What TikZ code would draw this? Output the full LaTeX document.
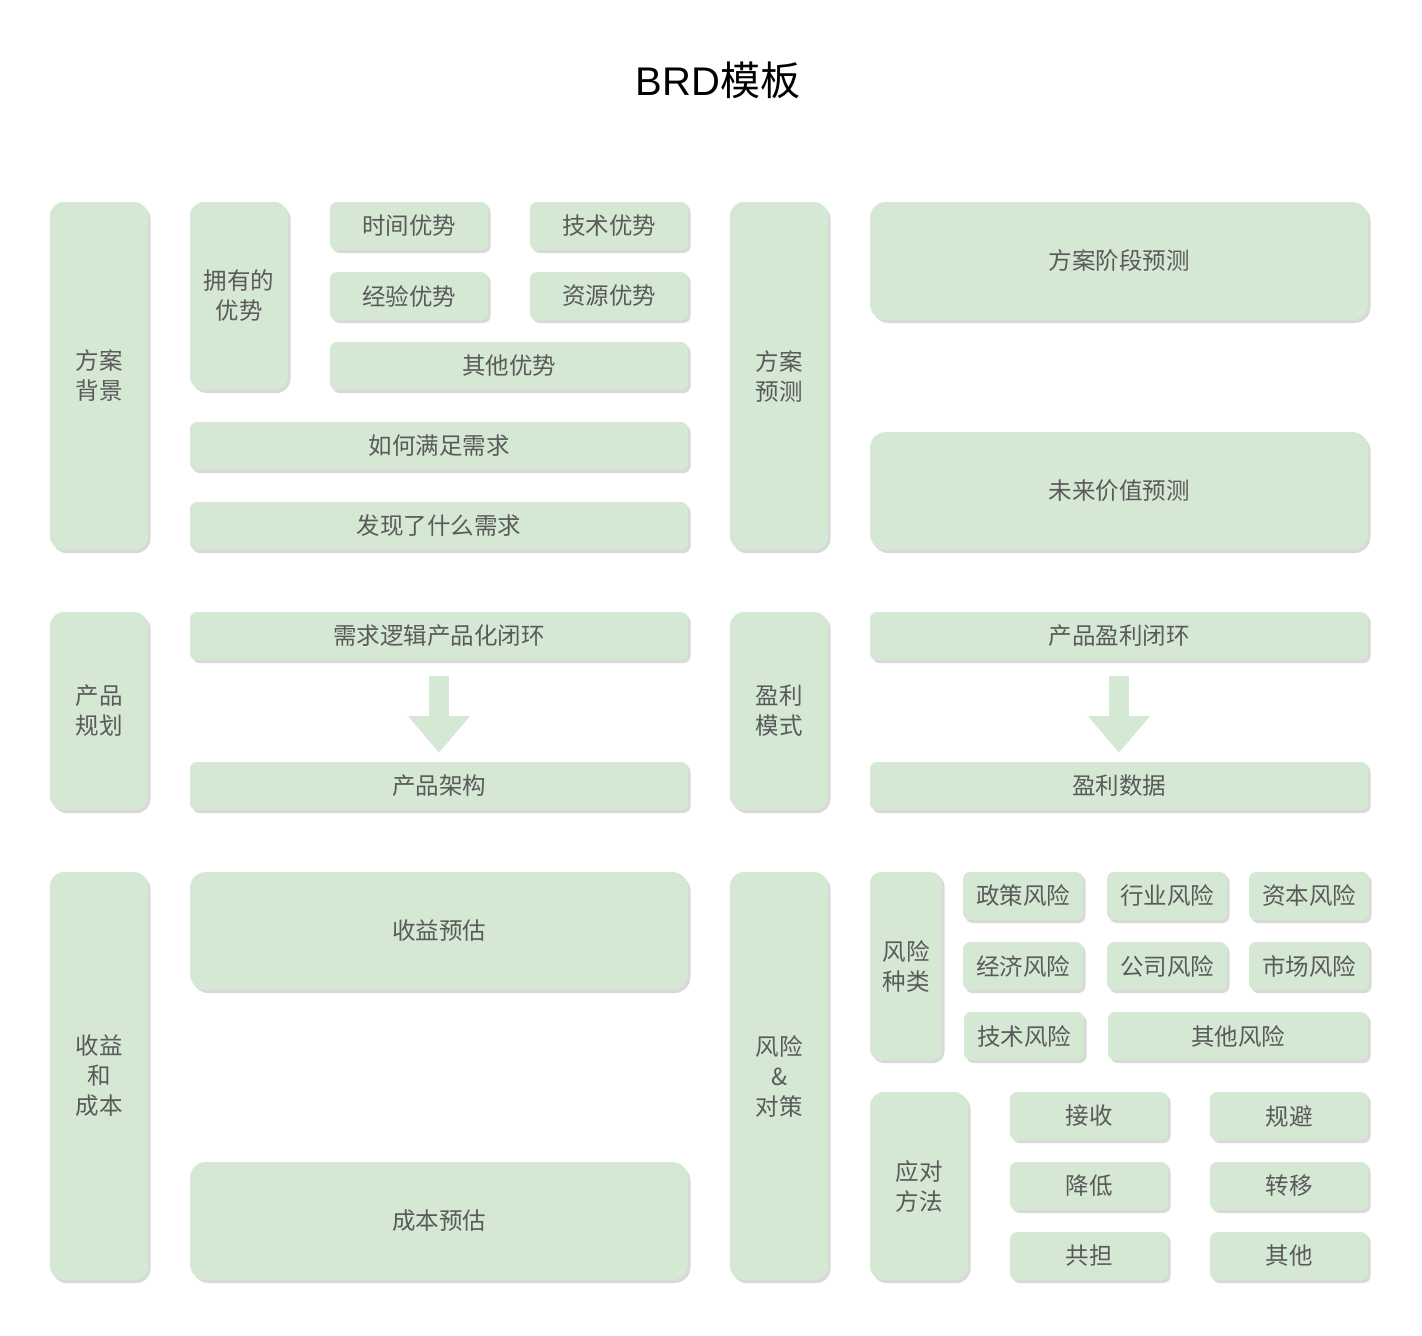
\documentclass[tikz,border=0pt]{standalone}
\usepackage{fontspec}
\setmainfont{Noto Sans CJK SC}
\newfontfamily\latinfont{Liberation Sans}
\usetikzlibrary{arrows.meta,shadows}

\definecolor{boxgreen}{HTML}{D5E8D4}
\definecolor{txtgray}{HTML}{5A5A5A}

\begin{document}
\begin{tikzpicture}[
      x=1pt, y=-1pt,
      box/.style={fill=boxgreen, rounded corners=7pt, text=txtgray, align=center, inner sep=0pt,
        font={\fontsize{23.5}{30}\selectfont},
        drop shadow={shadow xshift=2.5pt, shadow yshift=-3pt, fill=black, opacity=0.15}},
      tall/.style={box, rounded corners=14pt},
      small/.style={box, minimum width=158pt, minimum height=48pt},
      tiny/.style={box, minimum width=120pt, minimum height=48pt},
      wide/.style={box, minimum width=498pt, minimum height=48pt},
      big/.style={box, rounded corners=16pt, minimum width=498pt, minimum height=118pt},
      col/.style={tall, minimum width=98pt},
      arrow/.style={draw=boxgreen, line width=20pt, -{Triangle[length=37pt 0, width=60pt 0]},
        shorten <=16pt, shorten >=9pt}
    ]
    \useasboundingbox[fill=white] (0,0) rectangle (1422,1336);
    \node[font={\fontsize{40}{46}\selectfont}] (title) at (718,80) {{\latinfont BRD}模板};

    % scheme background
    \node[col, minimum height=348pt] (bg) at (99,376) {方案\\背景};
    \node[col, minimum height=188pt] (adv) at (239,296) {拥有的\\优势};
    \node[small] (adv_time) at (409,226) {时间优势};
    \node[small] (adv_tech) at (609,226) {技术优势};
    \node[small] (adv_exp) at (409,296) {经验优势};
    \node[small] (adv_res) at (609,296) {资源优势};
    \node[box, minimum width=358pt, minimum height=48pt] (adv_other) at (509,366) {其他优势};
    \node[wide] (meet) at (439,446) {如何满足需求};
    \node[wide] (find) at (439,526) {发现了什么需求};

    % scheme forecast
    \node[col, minimum height=348pt] (fc) at (779,376) {方案\\预测};
    \node[big] (fc_stage) at (1119,261) {方案阶段预测};
    \node[big] (fc_future) at (1119,491) {未来价值预测};

    % product planning
    \node[col, minimum height=198pt] (plan) at (99,711) {产品\\规划};
    \node[wide] (plan_loop) at (439,636) {需求逻辑产品化闭环};
    \node[wide] (plan_arch) at (439,786) {产品架构};
    \draw[arrow] (plan_loop) -- (plan_arch);

    % profit model
    \node[col, minimum height=198pt] (profit) at (779,711) {盈利\\模式};
    \node[wide] (profit_loop) at (1119,636) {产品盈利闭环};
    \node[wide] (profit_data) at (1119,786) {盈利数据};
    \draw[arrow] (profit_loop) -- (profit_data);

    % revenue and cost
    \node[col, minimum height=408pt] (rc) at (99,1076) {收益\\和\\成本};
    \node[big] (rc_rev) at (439,931) {收益预估};
    \node[big] (rc_cost) at (439,1221) {成本预估};

    % risks and measures
    \node[col, minimum height=408pt] (risk) at (779,1076) {风险\\\&\\对策};
    \node[box, rounded corners=11pt, minimum width=72pt, minimum height=188pt] (kinds) at (906,966) {风险\\种类};
    \node[tiny] (k_policy) at (1023,896) {政策风险};
    \node[tiny] (k_industry) at (1167,896) {行业风险};
    \node[tiny] (k_capital) at (1309,896) {资本风险};
    \node[tiny] (k_econ) at (1023,966) {经济风险};
    \node[tiny] (k_company) at (1167,966) {公司风险};
    \node[tiny] (k_market) at (1309,966) {市场风险};
    \node[tiny] (k_tech) at (1024,1036) {技术风险};
    \node[box, minimum width=260pt, minimum height=48pt] (k_other) at (1238,1036) {其他风险};

    \node[col, minimum height=188pt] (ways) at (919,1186) {应对\\方法};
    \node[small] (w_accept) at (1089,1116) {接收};
    \node[small] (w_avoid) at (1289,1116) {规避};
    \node[small] (w_reduce) at (1089,1186) {降低};
    \node[small] (w_transfer) at (1289,1186) {转移};
    \node[small] (w_share) at (1089,1256) {共担};
    \node[small] (w_other) at (1289,1256) {其他};
  \end{tikzpicture}
\end{document}
